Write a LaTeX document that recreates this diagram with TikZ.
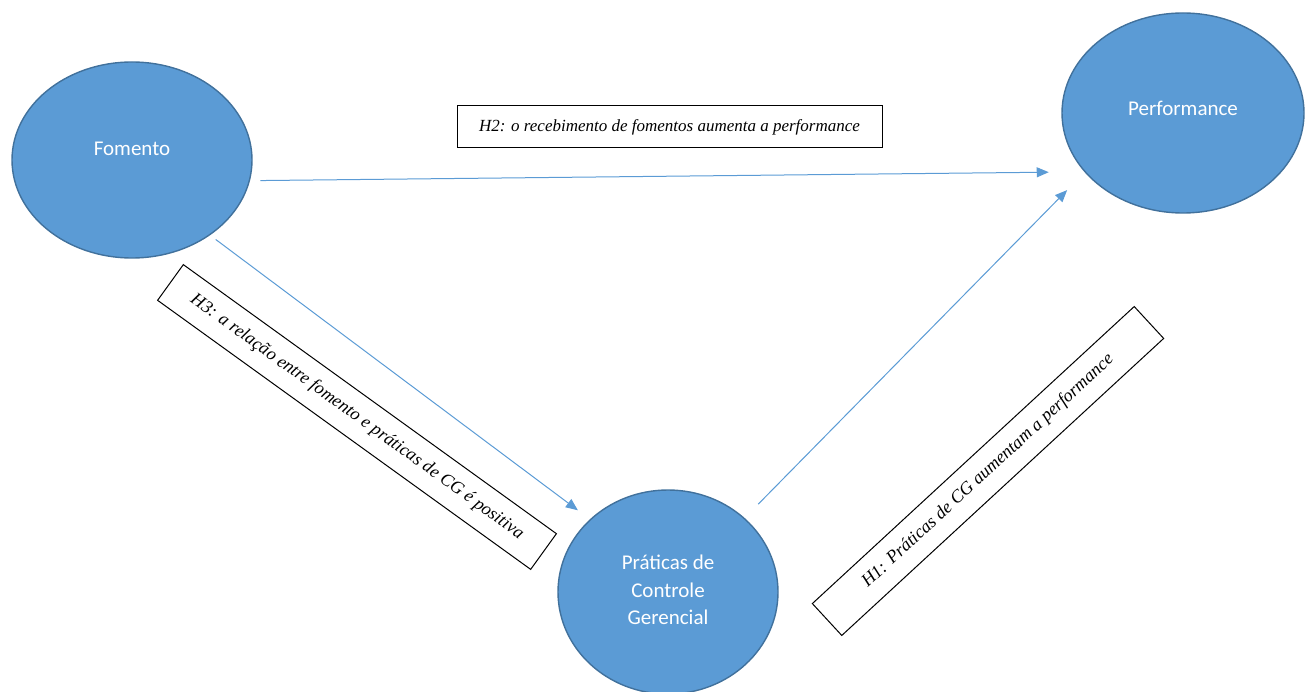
\documentclass[tikz,border=0pt]{standalone}
\usepackage{fontspec}
\setmainfont{Liberation Serif}
\newfontfamily\bubblefont{Carlito}
\usetikzlibrary{shapes.geometric,arrows.meta}

\definecolor{bubblefill}{HTML}{5B9BD5}
\definecolor{bubbleedge}{HTML}{41719C}
\definecolor{linkblue}{HTML}{5B9BD5}

\tikzset{
  bubble/.style={ellipse, draw=bubbleedge, fill=bubblefill, line width=1.4pt,
                 inner sep=0pt, outer sep=0pt},
  bubbletext/.style={text=white, align=center,
                     font=\bubblefont\fontsize{21}{27.5}\selectfont},
  hypbox/.style={draw=black, line width=1pt, fill=white, inner sep=0pt,
                 font=\itshape\fontsize{18}{21}\selectfont},
  link/.style={draw=linkblue, line width=1pt,
               -{Triangle[length=12pt,width=10pt]}}
}

\begin{document}
\begin{tikzpicture}[x=1pt, y=-1pt]
  \useasboundingbox (0,0) rectangle (1313,692);

  % constructs
  \node[bubble, minimum width=240pt, minimum height=196pt] (fom)  at (132,160) {};
  \node[bubble, minimum width=242pt, minimum height=200pt] (perf) at (1183,113) {};
  \node[bubble, minimum width=220pt, minimum height=204pt] (prat) at (668,592) {};

  \node[bubbletext] (fomtext)  at (132,149) {Fomento};
  \node[bubbletext] (perftext) at (1183,108) {Performance};
  \node[bubbletext] (prattext) at (668,590) {Práticas de\\Controle\\Gerencial};

  % hypotheses
  \draw[link, shorten <=11pt, shorten >=36.4pt] (fom.-10.65) -- (perf.-149.3);
  \draw[link, shorten <=7.8pt, shorten >=15.7pt] (fom.-44.4) -- (prat.137.6);
  \draw[link, shorten <=20pt, shorten >=25.7pt] (prat.44.9) -- (perf.-149.05);

  % hypothesis labels
  \node[hypbox, minimum width=425pt, minimum height=42pt,
        font=\itshape\fontsize{17}{20}\selectfont] (h2) at (669.5,127)
    {H2: o recebimento de fomentos aumenta a performance};
  \node[hypbox, minimum width=460pt, minimum height=44pt, rotate=-35.8] (h3) at (357,417)
    {H3: a relação entre fomento e práticas de CG é positiva};
  \node[hypbox, minimum width=438pt, minimum height=43.4pt, rotate=42.7] (h1) at (988,471)
    {H1: Práticas de CG aumentam a performance};
\end{tikzpicture}
\end{document}
